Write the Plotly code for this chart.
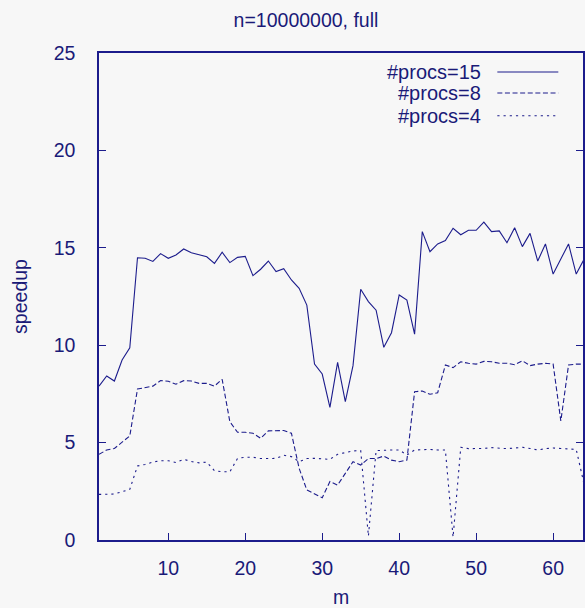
import plotly.graph_objects as go

m = list(range(1, 65))

procs15 = [7.9, 8.42, 8.16, 9.24, 9.87, 14.49, 14.46, 14.3, 14.7, 14.46,
           14.63, 14.94, 14.75, 14.66, 14.54, 14.2, 14.77, 14.24, 14.51, 14.56,
           13.57, 13.9, 14.32, 13.78, 13.93, 13.35, 12.92, 12.06, 9.03, 8.52,
           6.81, 9.12, 7.1, 8.95, 12.87, 12.24, 11.8, 9.89, 10.64, 12.58,
           12.32, 10.57, 15.83, 14.8, 15.2, 15.37, 16.0, 15.67, 15.9, 15.9,
           16.32, 15.83, 15.87, 15.26, 16.03, 15.06, 15.74, 14.32, 15.2, 13.65,
           14.41, 15.2, 13.65, 14.4]

procs8 = [4.4, 4.62, 4.7, 5.0, 5.34, 7.75, 7.82, 7.9, 8.18, 8.15,
          8.0, 8.18, 8.16, 8.04, 8.04, 7.9, 8.25, 6.07, 5.53, 5.53,
          5.48, 5.22, 5.6, 5.6, 5.62, 5.48, 3.68, 2.57, 2.36, 2.17,
          3.0, 2.82, 3.42, 4.02, 3.85, 4.18, 4.18, 4.31, 4.1, 4.02,
          4.1, 7.61, 7.65, 7.48, 7.56, 8.98, 8.85, 9.15, 9.07, 9.03,
          9.17, 9.15, 9.07, 9.07, 9.0, 9.2, 8.95, 9.03, 9.07, 9.03,
          6.11, 8.98, 9.03, 9.03]

procs4 = [2.34, 2.34, 2.36, 2.48, 2.6, 3.8, 3.88, 4.0, 4.07, 4.07,
          3.98, 4.14, 4.03, 3.96, 4.0, 3.56, 3.5, 3.5, 4.19, 4.25,
          4.25, 4.18, 4.18, 4.19, 4.35, 4.28, 4.02, 4.18, 4.19, 4.18,
          4.14, 4.4, 4.48, 4.57, 4.59, 0.2, 4.59, 4.62, 4.62, 4.62,
          4.36, 4.62, 4.65, 4.65, 4.62, 4.62, 0.15, 4.76, 4.69, 4.69,
          4.7, 4.74, 4.7, 4.69, 4.72, 4.76, 4.7, 4.62, 4.69, 4.72,
          4.7, 4.69, 4.65, 2.9]

series = [("#procs=15", procs15, "solid"),
          ("#procs=8", procs8, "5px,2.6px"),
          ("#procs=4", procs4, "2.2px,4px")]

x_ticks = [10, 20, 30, 40, 50, 60]
y_ticks = [0, 5, 10, 15, 20, 25]

NAVY = "#1c1c8c"
TEXT = "#1a1a78"
BG = "#f7f7f7"
FONT = "Liberation Sans, Arial, sans-serif"

fig = go.Figure()
for name, ys, dash in series:
    fig.add_trace(go.Scatter(x=m, y=ys, mode="lines", name=name,
                             line=dict(color=NAVY, width=1.1, dash=dash),
                             showlegend=False))

# gnuplot-style key: right-aligned text with line sample on the right
legend_y = [0.961, 0.918, 0.871]
for (name, ys, dash), yy in zip(series, legend_y):
    fig.add_annotation(x=0.794, y=yy, xref="paper", yref="paper",
                       text=name, showarrow=False, xanchor="right",
                       yanchor="middle", font=dict(size=20, color=TEXT, family=FONT))
    fig.add_shape(type="line", xref="paper", yref="paper",
                  x0=0.823, x1=0.949, y0=yy, y1=yy,
                  line=dict(color=NAVY, width=1.1, dash=dash))

fig.update_layout(
    width=585, height=608,
    margin=dict(l=99, r=0, t=53, b=68),
    paper_bgcolor=BG, plot_bgcolor=BG,
    font=dict(family=FONT, size=19.5, color=TEXT),
    title=dict(text="n=10000000, full", x=306/585, xref="container",
               xanchor="center", y=1 - 20/608, yref="container", yanchor="middle",
               font=dict(size=19.5, color=TEXT, family=FONT)),
    xaxis=dict(range=[1, 63.88], tickvals=x_ticks, ticks="inside", ticklen=7,
               tickcolor=NAVY, tickwidth=1.3, showline=True, linecolor=NAVY,
               linewidth=1.5, mirror=True, showgrid=False, zeroline=False,
               ticklabelstandoff=10,
               title=dict(text="m", standoff=12, font=dict(size=19.5, color=TEXT))),
    yaxis=dict(range=[0, 25], tickvals=y_ticks, ticks="inside", ticklen=7,
               tickcolor=NAVY, tickwidth=1.3, showline=True, linecolor=NAVY,
               linewidth=1.5, mirror="ticks", showgrid=False, zeroline=False,
               ticklabelstandoff=18,
               title=dict(text="speedup", standoff=21, font=dict(size=19.5, color=TEXT))),
)

fig.write_html("out.html")
